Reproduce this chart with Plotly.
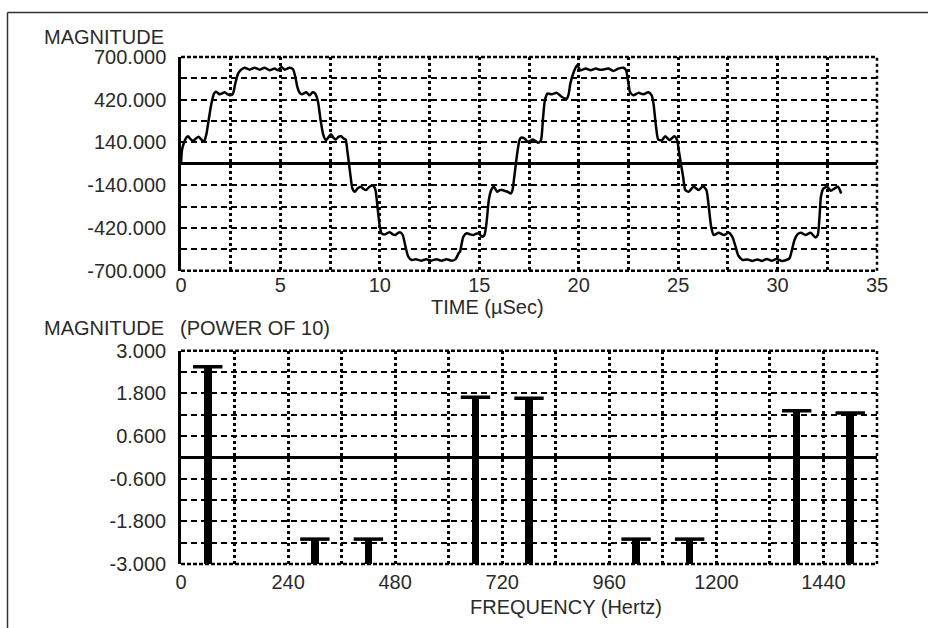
import plotly.graph_objects as go

# ---------------- data ----------------
time_us = [0.00, 0.05, 0.15, 0.27, 0.35, 0.48, 0.60, 0.75, 0.89, 1.03, 1.16, 1.27, 1.39, 1.53, 1.66, 1.76,
           1.94, 2.08, 2.20, 2.33, 2.48, 2.61, 2.73, 2.87, 3.03, 3.20, 3.45, 3.70, 3.96, 4.21, 4.46, 4.71,
           4.88, 5.05, 5.21, 5.46, 5.63, 5.75, 5.85, 5.97, 6.08, 6.30, 6.47, 6.62, 6.74,
           6.82, 6.90, 7.02, 7.16, 7.29, 7.42, 7.54, 7.66, 7.78, 7.93, 8.05, 8.18, 8.28, 8.36, 8.45, 8.53,
           8.62, 8.74, 8.88, 9.05, 9.18, 9.31, 9.48, 9.66, 9.78, 9.88, 10.00, 10.09, 10.26, 10.40, 10.52,
           10.65, 10.78, 10.92, 11.03, 11.15, 11.29, 11.43, 11.60, 11.81, 12.07, 12.33, 12.59, 12.84, 13.10,
           13.36, 13.62, 13.80, 13.96,
           14.03, 14.20, 14.37, 14.54, 14.71, 14.84, 14.97, 15.14, 15.26, 15.36, 15.48, 15.60, 15.73, 15.90,
           16.03, 16.16, 16.30, 16.42, 16.59, 16.67, 16.76, 16.84, 16.93, 17.02, 17.10, 17.27, 17.44, 17.58,
           17.70, 17.85, 17.96, 18.10, 18.21, 18.30, 18.43, 18.64, 18.90, 19.15, 19.41, 19.50, 19.58, 19.75,
           19.92, 20.09, 20.35, 20.60, 20.86, 21.05, 21.20,
           21.49, 21.74, 21.99, 22.25, 22.38, 22.50, 22.58, 22.75, 23.00, 23.25, 23.50, 23.67, 23.76, 23.89,
           24.00, 24.18, 24.35, 24.57, 24.81, 24.95, 25.03, 25.14, 25.25, 25.36, 25.53, 25.78, 26.04, 26.25,
           26.42, 26.54, 26.66, 26.79, 27.04, 27.30, 27.55, 27.72, 27.89, 28.02, 28.14,
           28.24, 28.49, 28.73, 28.98, 29.22, 29.46, 29.71, 29.95, 30.20, 30.44, 30.60, 30.72, 30.85, 31.01,
           31.17, 31.41, 31.66, 31.90, 32.02, 32.11, 32.18, 32.31, 32.50, 32.67, 32.88, 33.04, 33.20]

magnitude = [0, 90, 138, 172, 181, 162, 150, 166, 177, 158, 146, 190, 286, 395, 460, 473,
             456, 462, 469, 457, 449, 458, 526, 591, 617, 630, 617, 630, 617, 630, 613, 624,
             613, 635, 617, 630, 620, 569, 504, 465, 456, 469, 449, 469, 462,
             440, 400, 286, 188, 155, 175, 194, 172, 159, 178, 181, 166, 160, 90, 0, -85,
             -161, -183, -161, -150, -165, -172, -150, -142, -172, -281, -412, -456, -462, -452, -449,
             -462, -466, -452, -449, -466, -543, -608, -630, -625, -634, -625, -634, -625, -634,
             -625, -634, -626, -586,
             -575, -477, -455, -462, -466, -458, -455, -477, -466, -390, -237, -172, -150, -183,
             -172, -172, -178, -183, -194, -172, -85, 0, 90, 155, 172, 166, 144, 152,
             159, 148, 138, 155, 308, 417, 460, 456, 465, 438, 428, 460, 526, 602,
             646, 613, 624, 613, 624, 617, 617,
             624, 609, 624, 630, 613, 526, 471, 449, 465, 456, 469, 449, 395, 242,
             159, 155, 181, 155, 181, 155, 90, 0, -85, -172, -183, -150, -172, -146,
             -172, -281, -412, -466, -451, -466, -451, -477, -543, -600, -619,
             -630, -626, -636, -626, -636, -623, -634, -623, -636, -630, -619, -565, -499, -460,
             -451, -466, -451, -482, -466, -347, -216, -161, -150, -176, -161, -150, -194]

freq_hz = [60, 300, 420, 660, 780, 1020, 1140, 1380, 1500]
log_mag = [2.55, -2.3, -2.3, 1.69, 1.66, -2.3, -2.3, 1.31, 1.25]

top_x_ticks = [0, 5, 10, 15, 20, 25, 30, 35]
top_y_ticks = [-700, -420, -140, 140, 420, 700]
bot_x_ticks = [0, 240, 480, 720, 960, 1200, 1440]
bot_y_ticks = [-3.0, -1.8, -0.6, 0.6, 1.8, 3.0]

# ---------------- styling ----------------
FONT = dict(family="Liberation Sans, Arial, sans-serif", size=20, color="#2a2a2a")
H_DASH = "6px,4px"
V_DASH = "3px,3px"
EDGE_DASH = "4px,2px"
BAR_FLOOR = -3.0

fig = go.Figure()
fig.add_trace(go.Scatter(x=time_us, y=magnitude, mode="lines",
                         line=dict(color="black", width=2.5, shape="spline", smoothing=0.6),
                         xaxis="x", yaxis="y", hoverinfo="skip"))
fig.add_trace(go.Bar(x=freq_hz, y=[m - BAR_FLOOR for m in log_mag], base=BAR_FLOOR, width=17,
                     marker=dict(color="black", line=dict(width=0)), xaxis="x2", yaxis="y2",
                     hoverinfo="skip"))
fig.add_trace(go.Scatter(x=freq_hz, y=log_mag, mode="markers",
                         marker=dict(symbol="line-ew", size=21, line=dict(width=3.5, color="black")),
                         xaxis="x2", yaxis="y2", hoverinfo="skip"))


def xaxis(rng, ticks, minor_dtick, anchor, standoff):
    return dict(range=rng, anchor=anchor, tickmode="array", tickvals=ticks,
                ticktext=[str(t) for t in ticks], showgrid=True, gridcolor="black", gridwidth=2.5,
                griddash=V_DASH, zeroline=False, showline=False, ticks="",
                ticklabelstandoff=standoff, tickfont=FONT,
                minor=dict(tickmode="linear", tick0=0, dtick=minor_dtick, showgrid=True,
                           gridcolor="black", gridwidth=2.5, griddash=V_DASH))


def yaxis(rng, ticks, minor_dtick, anchor, domain, fmt):
    return dict(range=rng, anchor=anchor, domain=domain, tickmode="array", tickvals=ticks,
                ticktext=[fmt.format(t) for t in ticks], showgrid=True, gridcolor="black",
                gridwidth=2, griddash=H_DASH, zeroline=True, zerolinecolor="black",
                zerolinewidth=2.5, showline=True, linecolor="black", linewidth=2.5, ticks="",
                ticklabelstandoff=8, tickfont=FONT,
                minor=dict(tickmode="linear", tick0=rng[0], dtick=minor_dtick, showgrid=True,
                           gridcolor="black", gridwidth=2, griddash=H_DASH))


L, R, T, B = 181, 51, 57, 64
W, H = 928, 628
PW, PH = W - L - R, H - T - B


def px(x):
    return (x - L) / PW


def py(y):
    return (H - B - y) / PH


fig.update_layout(
    width=W, height=H, margin=dict(l=L, r=R, t=T, b=B),
    paper_bgcolor="white", plot_bgcolor="white", showlegend=False,
    font=FONT, bargap=0,
    xaxis=xaxis([0, 35], top_x_ticks, 2.5, "y", 0),
    yaxis=yaxis([-700, 700], top_y_ticks, 140, "x", [py(270.7), 1.0], "{:.3f}"),
    xaxis2=xaxis([0, 1560], bot_x_ticks, 120, "y2", 4),
    yaxis2=yaxis([-3, 3], bot_y_ticks, 0.6, "x2", [0.0, py(350.7)], "{:.3f}"),
)

ann = [
    dict(text="MAGNITUDE", x=px(166), y=py(36.7), xanchor="right"),
    dict(text="MAGNITUDE", x=px(166), y=py(327.5), xanchor="right"),
    dict(text="(POWER OF 10)", x=px(178), y=py(327.5), xanchor="left"),
    dict(text="TIME (\u00b5Sec)", x=px(487), y=py(306.5), xanchor="center"),
    dict(text="FREQUENCY (Hertz)", x=px(566), y=py(607), xanchor="center"),
]
for a in ann:
    fig.add_annotation(xref="paper", yref="paper", yanchor="middle", showarrow=False,
                       font=FONT, **a)

# dotted plot-area edges (top, bottom, right) for both panels
for xr, yr in (("x", "y"), ("x2", "y2")):
    for (x0, y0, x1, y1, dash) in ((0, 1, 1, 1, EDGE_DASH), (0, 0, 1, 0, EDGE_DASH),
                                   (1, 0, 1, 1, V_DASH)):
        fig.add_shape(type="line", xref=f"{xr} domain", yref=f"{yr} domain",
                      x0=x0, y0=y0, x1=x1, y1=y1, layer="below",
                      line=dict(color="black", width=2.5, dash=dash))

# outer frame (top and left edges)
fig.add_shape(type="line", xref="paper", yref="paper", x0=px(7.5), x1=px(940),
              y0=py(12.5), y1=py(12.5), line=dict(color="#333333", width=1.5))
fig.add_shape(type="line", xref="paper", yref="paper", x0=px(7.5), x1=px(7.5),
              y0=py(12.5), y1=py(640), line=dict(color="#333333", width=1.5))

fig.write_html("out.html", config={"displayModeBar": False},
               post_script="document.body.style.margin='0';document.body.style.overflow='hidden';")
